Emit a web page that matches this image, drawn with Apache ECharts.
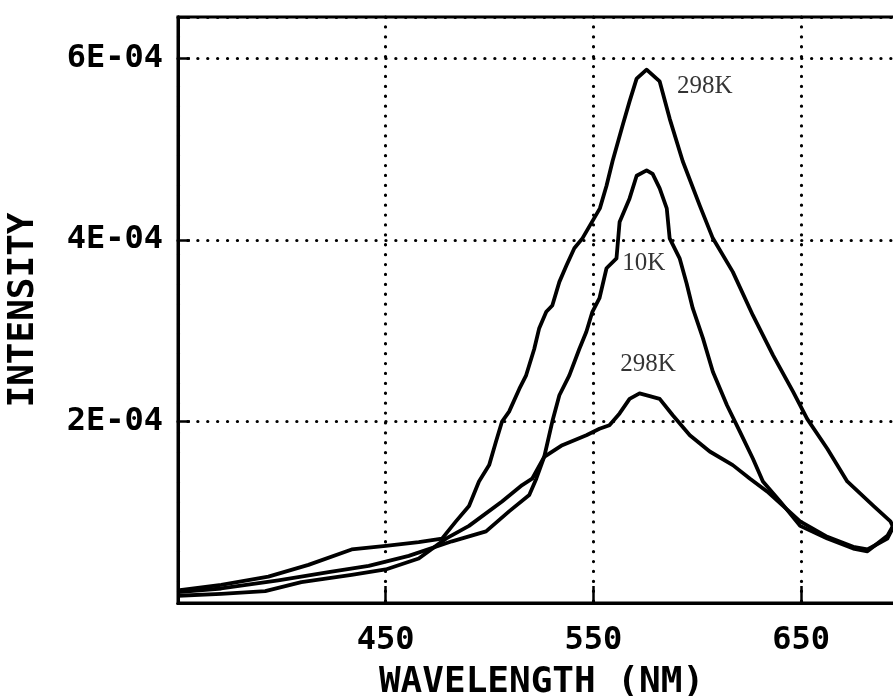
<!DOCTYPE html>
<html>
<head>
<meta charset="utf-8">
<script src="https://cdn.jsdelivr.net/npm/echarts@6/dist/echarts.min.js"></script>
<style>
  html, body { margin: 0; padding: 0; background: #fff; }
  #chart { width: 893px; height: 696px; }
</style>
</head>
<body>
<div id="chart"></div>
<script>
// wavelength in nm, intensity in units of 1E-04
const wl298a = [350, 370.8, 393.5, 412.8, 433.6, 450, 465.9, 477.1, 483.8, 490.1, 494.9, 499.8, 503.1, 506, 509.4, 514.3, 517.6, 521.5, 523.9, 527.3, 530.2, 533.6, 537, 540.8, 544.7, 553.1, 556.3, 559.2, 564, 567.4, 570.8, 575.6, 581.9, 586.7, 593, 601.2, 607.5, 617.1, 626.8, 636.5, 646.1, 652.9, 662.6, 672.2, 684.8, 693, 694.2]
const int298a = [0.14, 0.2, 0.29, 0.42, 0.59, 0.63, 0.67, 0.71, 0.9, 1.07, 1.34, 1.52, 1.78, 2.0, 2.11, 2.36, 2.51, 2.8, 3.03, 3.21, 3.28, 3.54, 3.72, 3.91, 4.02, 4.35, 4.6, 4.87, 5.26, 5.53, 5.78, 5.88, 5.75, 5.34, 4.87, 4.38, 4.02, 3.65, 3.17, 2.73, 2.33, 2.03, 1.7, 1.34, 1.07, 0.9, 0.84]

const wl10 = [350, 370.8, 392, 409.4, 433.6, 450, 465.9, 479, 490.1, 506, 515.7, 520.5, 526.3, 530.2, 533.6, 538.4, 543.2, 546.6, 549.5, 552.9, 556.3, 561.1, 562.6, 567.4, 570.8, 575.6, 578.5, 581.9, 585.3, 586.7, 591.5, 594.9, 597.8, 602.7, 607.5, 614.3, 620.5, 626.8, 631.6, 639.9, 649.5, 662.6, 675.1, 681.9, 691.5, 694]
const int10 = [0.08, 0.1, 0.13, 0.23, 0.31, 0.37, 0.49, 0.71, 0.85, 1.12, 1.3, 1.37, 1.61, 2.0, 2.29, 2.51, 2.8, 2.99, 3.21, 3.36, 3.69, 3.8, 4.2, 4.46, 4.71, 4.77, 4.73, 4.57, 4.35, 4.02, 3.8, 3.52, 3.25, 2.92, 2.55, 2.18, 1.89, 1.59, 1.34, 1.12, 0.85, 0.71, 0.6, 0.57, 0.74, 0.84]

const wl298b = [350, 370.8, 398.3, 422.5, 441.8, 461.1, 481.9, 498.3, 509.4, 519.1, 522.5, 526.3, 535, 546.6, 552.9, 557.7, 562.6, 567.4, 572.2, 577.1, 581.9, 588.2, 596.4, 606, 617.1, 625.4, 633.6, 641.3, 649.5, 662.6, 675.1, 681.9, 691.5, 694]
const int298b = [0.12, 0.16, 0.25, 0.34, 0.41, 0.52, 0.68, 0.79, 1.01, 1.19, 1.37, 1.61, 1.74, 1.85, 1.92, 1.96, 2.09, 2.25, 2.31, 2.28, 2.25, 2.07, 1.85, 1.67, 1.52, 1.37, 1.23, 1.07, 0.9, 0.73, 0.62, 0.59, 0.71, 0.82]

const notes = [[603.6, 5.69, '298K'], [574.2, 3.74, '10K'], [576.3, 2.63, '298K']]

const xLabels = [450, 550, 650]
const yLabels = [2, 4, 6]

const zip = (xs, ys) => xs.map((x, i) => [x, ys[i]])

const chart = echarts.init(document.getElementById('chart'))

const mono = 'DejaVu Sans Mono'
const dots = { color: '#000', width: 3.2, type: [0.1, 9.8], cap: 'round' }

const curve = (name, xs, ys) => ({
  name: name,
  type: 'line',
  data: zip(xs, ys),
  showSymbol: false,
  smooth: false,
  lineStyle: { color: '#000', width: 3.8, join: 'round' },
  z: 5
})

const option = {
  backgroundColor: '#fff',
  animation: false,
  grid: {
    left: 178,
    right: -12,
    top: 17,
    bottom: 93,
    show: true,
    borderColor: '#000',
    borderWidth: 3,
    outerBoundsMode: 'none'
  },
  xAxis: {
    type: 'value',
    min: 350,
    max: 700,
    interval: 100,
    name: 'WAVELENGTH (NM)',
    nameLocation: 'middle',
    nameGap: 62,
    nameTextStyle: { fontFamily: mono, fontWeight: 'bold', fontSize: 36, color: '#000' },
    axisLine: { show: true, lineStyle: { color: '#000', width: 3 } },
    axisTick: { show: true, inside: true, length: 17, lineStyle: { color: '#000', width: 2.5 } },
    axisLabel: {
      margin: 22,
      fontFamily: mono,
      fontWeight: 'bold',
      fontSize: 32,
      color: '#000',
      formatter: v => xLabels.includes(v) ? String(v) : ''
    },
    splitLine: { show: true, lineStyle: dots }
  },
  yAxis: {
    type: 'value',
    min: 0,
    max: 6.46,
    interval: 2,
    name: 'INTENSITY',
    nameLocation: 'middle',
    nameGap: 136,
    nameTextStyle: { fontFamily: mono, fontWeight: 'bold', fontSize: 36, color: '#000' },
    axisLine: { show: true, lineStyle: { color: '#000', width: 3 } },
    axisTick: { show: true, inside: true, length: 12, lineStyle: { color: '#000', width: 2.5 } },
    axisLabel: {
      margin: 15,
      fontFamily: mono,
      fontWeight: 'bold',
      fontSize: 32,
      color: '#000',
      formatter: v => yLabels.includes(v) ? v + 'E-04' : ''
    },
    splitLine: { show: true, lineStyle: dots }
  },
  series: [
    curve('298K', wl298a, int298a),
    curve('10K', wl10, int10),
    curve('298K low', wl298b, int298b),
    {
      type: 'scatter',
      data: notes,
      symbolSize: 1,
      itemStyle: { color: 'transparent' },
      label: {
        show: true,
        position: 'inside',
        formatter: p => p.data[2],
        fontFamily: 'Liberation Serif',
        fontSize: 25,
        color: '#000'
      },
      z: 6
    }
  ]
}

chart.setOption(option)
</script>
</body>
</html>
